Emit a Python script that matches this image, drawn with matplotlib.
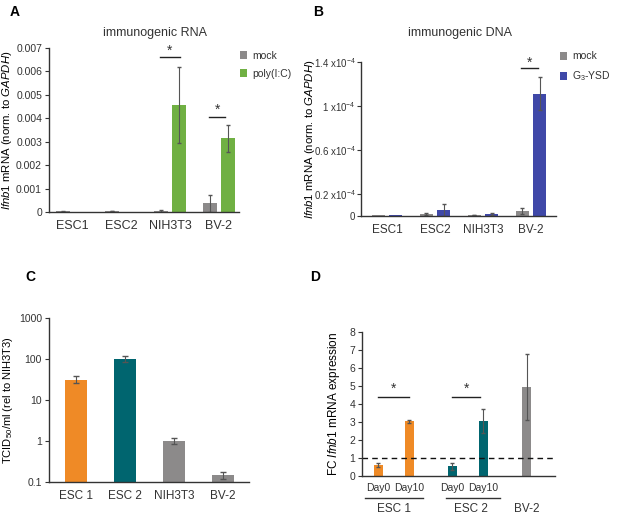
# Ifnb1 expression / TCID50 panels (A-D)

import matplotlib.pyplot as plt
import numpy as np

plt.rcParams['font.family'] = ['Liberation Sans', 'DejaVu Sans']
plt.rcParams['mathtext.fontset'] = 'custom'
plt.rcParams['mathtext.rm'] = 'Liberation Sans'
plt.rcParams['mathtext.it'] = 'Liberation Sans:italic'
plt.rcParams['axes.linewidth'] = 1.0
plt.rcParams['axes.edgecolor'] = '#333333'
plt.rcParams['text.color'] = '#333333'
plt.rcParams['xtick.color'] = '#333333'
plt.rcParams['ytick.color'] = '#333333'

# Data
cells_ab = ['ESC1', 'ESC2', 'NIH3T3', 'BV-2']
rna_mock = [0.00003, 0.00003, 0.00005, 0.00038]
rna_mock_err = [0.00001, 0.000005, 0.00003, 0.00036]
rna_polyic = [0.00001, 0.0, 0.00458, 0.00314]
rna_polyic_err = [0.0, 0.0, 0.00163, 0.00058]

dna_mock = [0.005e-4, 0.015e-4, 0.005e-4, 0.045e-4]
dna_mock_err = [0.0, 0.01e-4, 0.0, 0.025e-4]
dna_g3 = [0.005e-4, 0.055e-4, 0.015e-4, 1.11e-4]
dna_g3_err = [0.0, 0.055e-4, 0.01e-4, 0.15e-4]
dna_ticks = [0, 0.2e-4, 0.6e-4, 1.0e-4, 1.4e-4]
dna_ticklabels = ['0', '0.2 x10$^{-4}$', '0.6 x10$^{-4}$', '1 x10$^{-4}$', '1.4 x10$^{-4}$']

cells_c = ['ESC 1', 'ESC 2', 'NIH3T3', 'BV-2']
tcid = [31.6, 100, 1.0, 0.146]
tcid_lo = [26, 85, 0.85, 0.12]
tcid_hi = [38, 118, 1.2, 0.18]

day_labels = ['Day0', 'Day10', 'Day0', 'Day10', '']
fc = [0.6, 3.05, 0.55, 3.05, 4.95]
fc_err = [0.1, 0.08, 0.2, 0.68, 1.83]

orange = '#EF8A26'
teal = '#00656F'
gray = '#8C8A8A'
green = '#70B043'
blue = '#3F48A8'
errc = '#555555'

W, H = 617, 522
fig = plt.figure(figsize=(W / 100, H / 100), dpi=100)


def axes_px(l, t, r, b):
    return fig.add_axes([l / W, 1 - b / H, (r - l) / W, (b - t) / H])


def clean(ax):
    ax.spines['top'].set_visible(False)
    ax.spines['right'].set_visible(False)
    ax.tick_params(axis='x', length=0, pad=6)
    ax.tick_params(axis='y', length=3, width=0.8, labelsize=7.5, pad=2)


def sig(ax, x0, x1, y, ys):
    ax.plot([x0, x1], [y, y], color='#222222', lw=1)
    ax.text((x0 + x1) / 2, ys, '*', ha='center', va='center', fontsize=10)


# ---- A ----
ax = axes_px(49, 48, 239, 212)
x = np.arange(4)
bw, off = 0.29, 0.19
ax.bar(x - off, rna_mock, bw, color=gray, label='mock')
ax.bar(x + off, rna_polyic, bw, color=green, label='poly(I:C)')
ax.errorbar(x - off, rna_mock, yerr=rna_mock_err, fmt='none', ecolor=errc, elinewidth=0.8, capsize=1.5)
ax.errorbar(x[2:] + off, rna_polyic[2:], yerr=rna_polyic_err[2:], fmt='none', ecolor=errc, elinewidth=0.8, capsize=1.5)
ax.set_xlim(-0.47, 3.41)
ax.set_ylim(0, 0.007)
ax.set_yticks(np.arange(0, 0.0071, 0.001))
ax.set_yticklabels(['0', '0.001', '0.002', '0.003', '0.004', '0.005', '0.006', '0.007'])
ax.set_xticks(x)
ax.set_xticklabels(cells_ab, fontsize=9)
clean(ax)
sig(ax, 1.8, 2.2, 0.00662, 0.0069)
sig(ax, 2.8, 3.13, 0.00405, 0.00435)
ax.set_ylabel(r'$\mathit{Ifnb1}$ mRNA (norm. to $\mathit{GAPDH}$)', fontsize=8.2)
ax.yaxis.set_label_coords(-0.185, 0.5)
ax.legend(loc='upper left', bbox_to_anchor=(0.955, 1.04), frameon=False, fontsize=7.5,
          handlelength=0.7, handleheight=0.8, handletextpad=0.5, labelspacing=0.75)
fig.text(155 / W, 1 - 33 / H, 'immunogenic RNA', ha='center', va='center', fontsize=9)

# ---- B ----
ax = axes_px(361, 62, 556, 216)
bw, off = 0.27, 0.18
ax.bar(x - off, dna_mock, bw, color=gray, label='mock')
ax.bar(x + off, dna_g3, bw, color=blue, label='G$_3$-YSD')
ax.errorbar(x[1:] - off, dna_mock[1:], yerr=dna_mock_err[1:], fmt='none', ecolor=errc, elinewidth=0.8, capsize=1.5)
ax.errorbar(x[1:] + off, dna_g3[1:], yerr=dna_g3_err[1:], fmt='none', ecolor=errc, elinewidth=0.8, capsize=1.5)
ax.set_xlim(-0.54, 3.52)
ax.set_ylim(0, 1.4e-4)
ax.set_yticks(dna_ticks)
ax.set_yticklabels(dna_ticklabels)
ax.set_xticks(x)
ax.set_xticklabels(cells_ab, fontsize=8.5)
clean(ax)
ax.tick_params(axis='y', labelsize=7, pad=1)
sig(ax, 2.8, 3.15, 1.345e-4, 1.39e-4)
ax.set_ylabel(r'$\mathit{Ifnb1}$ mRNA (norm. to $\mathit{GAPDH}$)', fontsize=8.2)
ax.yaxis.set_label_coords(-0.225, 0.5)
ax.legend(loc='upper left', bbox_to_anchor=(0.97, 1.13), frameon=False, fontsize=7.5,
          handlelength=0.7, handleheight=0.8, handletextpad=0.5, labelspacing=0.75)
fig.text(460 / W, 1 - 33 / H, 'immunogenic DNA', ha='center', va='center', fontsize=9)

# ---- C ----
ax = axes_px(49, 318, 249, 482)
ax.bar(x, tcid, 0.43, color=[orange, teal, gray, gray])
yerr = [np.array(tcid) - np.array(tcid_lo), np.array(tcid_hi) - np.array(tcid)]
ax.errorbar(x, tcid, yerr=yerr, fmt='none', ecolor=errc, elinewidth=0.8, capsize=2)
ax.set_yscale('log')
ax.set_ylim(0.1, 1000)
ax.set_yticks([0.1, 1, 10, 100, 1000])
ax.set_yticklabels(['0.1', '1', '10', '100', '1000'])
ax.yaxis.set_minor_locator(plt.NullLocator())
ax.set_xlim(-0.55, 3.53)
ax.set_xticks(x)
ax.set_xticklabels(cells_c, fontsize=8.5)
clean(ax)
ax.set_ylabel('TCID$_{50}$/ml (rel to NIH3T3)', fontsize=8)
ax.yaxis.set_label_coords(-0.17, 0.5)

# ---- D ----
ax = axes_px(362, 332, 555, 476)
xd = np.array([0, 1, 2.4, 3.4, 4.8])
ax.bar(xd, fc, 0.29, color=[orange, orange, teal, teal, gray])
ax.errorbar(xd, fc, yerr=fc_err, fmt='none', ecolor=errc, elinewidth=0.8, capsize=1.5)
ax.axhline(1, color='#111111', lw=1, ls=(0, (4, 3)))
ax.set_xlim(-0.52, 5.71)
ax.set_ylim(0, 8)
ax.set_yticks(range(9))
ax.set_xticks([])
clean(ax)
sig(ax, 0, 1, 4.39, 4.85)
sig(ax, 2.4, 3.3, 4.39, 4.85)
tr = ax.get_xaxis_transform()
for xi, lab in zip(xd, day_labels):
    ax.text(xi, -0.085, lab, transform=tr, ha='center', va='center', fontsize=7.5)
for x0, x1 in [(-0.42, 1.45), (2.2, 3.95)]:
    ax.plot([x0, x1], [-0.15, -0.15], transform=tr, color='#333333', lw=1, clip_on=False)
for xi, lab in [(0.5, 'ESC 1'), (3.0, 'ESC 2'), (4.8, 'BV-2')]:
    ax.text(xi, -0.23, lab, transform=tr, ha='center', va='center', fontsize=8.5)
ax.set_ylabel(r'FC $\mathit{Ifnb1}$ mRNA expression', fontsize=8.5)
ax.yaxis.set_label_coords(-0.104, 0.5)

# panel letters
for px, py, s in [(15, 12, 'A'), (318, 12, 'B'), (30, 277, 'C'), (315, 277, 'D')]:
    fig.text(px / W, 1 - py / H, s, ha='center', va='center', fontsize=10, fontweight='bold', color='black')

plt.savefig('out.png', dpi=100)
